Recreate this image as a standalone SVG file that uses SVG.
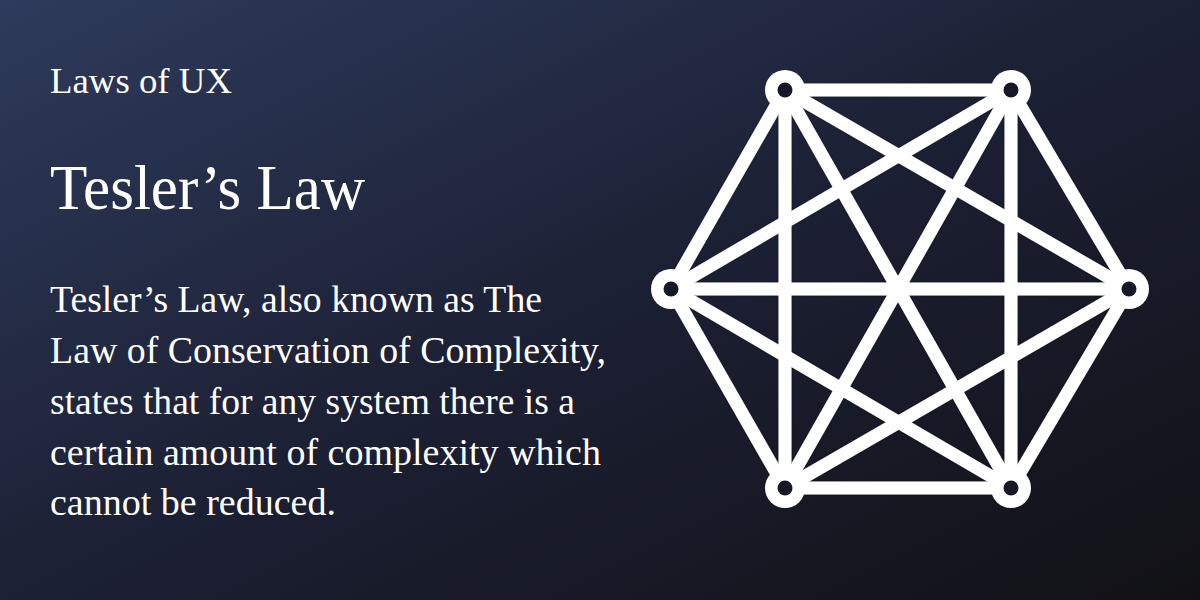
<svg xmlns="http://www.w3.org/2000/svg" width="1200" height="600" viewBox="0 0 1200 600">
  <defs>
    <linearGradient id="bg" x1="0" y1="0" x2="1" y2="1">
      <stop offset="0" stop-color="#2e3b5c"/>
      <stop offset="0.5" stop-color="#1c2034"/>
      <stop offset="1" stop-color="#111115"/>
    </linearGradient>
    <filter id="sh" x="-10%" y="-10%" width="120%" height="120%">
      <feDropShadow dx="0" dy="0" stdDeviation="1" flood-color="#000" flood-opacity="0.5"/>
    </filter>
  </defs>
  <style>
    .txt { font-family: "Liberation Serif", "DejaVu Serif", serif; fill: #ffffff; }
    .edge { stroke: #ffffff; stroke-width: 13; stroke-linecap: round; fill: none; }
    .ring { fill: #ffffff; }
    .hole { fill: #151826; }
  </style>
  <rect x="0" y="0" width="1200" height="600" fill="url(#bg)"/>

  <g id="text">
    <text class="txt" x="50" y="93" font-size="36" textLength="182" lengthAdjust="spacingAndGlyphs">Laws of UX</text>
    <text class="txt" x="50" y="209" font-size="64" textLength="315" lengthAdjust="spacingAndGlyphs">Tesler’s Law</text>
    <text class="txt" x="50" y="312" font-size="38" textLength="492" lengthAdjust="spacingAndGlyphs">Tesler’s Law, also known as The</text>
    <text class="txt" x="50" y="363" font-size="38" textLength="556" lengthAdjust="spacingAndGlyphs">Law of Conservation of Complexity,</text>
    <text class="txt" x="50" y="414" font-size="38" textLength="525" lengthAdjust="spacingAndGlyphs">states that for any system there is a</text>
    <text class="txt" x="50" y="465" font-size="38" textLength="551" lengthAdjust="spacingAndGlyphs">certain amount of complexity which</text>
    <text class="txt" x="50" y="515" font-size="38" textLength="286" lengthAdjust="spacingAndGlyphs">cannot be reduced.</text>
  </g>

  <g id="connectors" filter="url(#sh)">
    <line class="edge" x1="785" y1="90" x2="1011" y2="90"/>
    <line class="edge" x1="785" y1="90" x2="1129" y2="289"/>
    <line class="edge" x1="785" y1="90" x2="1011" y2="488"/>
    <line class="edge" x1="785" y1="90" x2="785" y2="488"/>
    <line class="edge" x1="785" y1="90" x2="671" y2="289"/>
    <line class="edge" x1="1011" y1="90" x2="1129" y2="289"/>
    <line class="edge" x1="1011" y1="90" x2="1011" y2="488"/>
    <line class="edge" x1="1011" y1="90" x2="785" y2="488"/>
    <line class="edge" x1="1011" y1="90" x2="671" y2="289"/>
    <line class="edge" x1="1129" y1="289" x2="1011" y2="488"/>
    <line class="edge" x1="1129" y1="289" x2="785" y2="488"/>
    <line class="edge" x1="1129" y1="289" x2="671" y2="289"/>
    <line class="edge" x1="1011" y1="488" x2="785" y2="488"/>
    <line class="edge" x1="1011" y1="488" x2="671" y2="289"/>
    <line class="edge" x1="785" y1="488" x2="671" y2="289"/>
  </g>

  <g id="node-top-left"><circle class="ring" cx="785" cy="90" r="20"/><circle class="hole" cx="785" cy="90" r="7.5"/></g>
  <g id="node-top-right"><circle class="ring" cx="1011" cy="90" r="20"/><circle class="hole" cx="1011" cy="90" r="7.5"/></g>
  <g id="node-right"><circle class="ring" cx="1129" cy="289" r="20"/><circle class="hole" cx="1129" cy="289" r="7.5"/></g>
  <g id="node-bottom-right"><circle class="ring" cx="1011" cy="488" r="20"/><circle class="hole" cx="1011" cy="488" r="7.5"/></g>
  <g id="node-bottom-left"><circle class="ring" cx="785" cy="488" r="20"/><circle class="hole" cx="785" cy="488" r="7.5"/></g>
  <g id="node-left"><circle class="ring" cx="671" cy="289" r="20"/><circle class="hole" cx="671" cy="289" r="7.5"/></g>
</svg>
